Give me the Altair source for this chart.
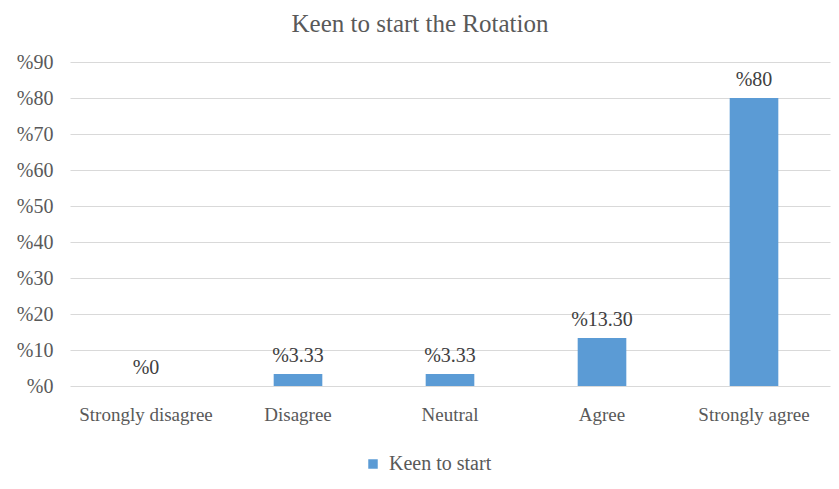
import altair as alt
import pandas as pd

categories = ["Strongly disagree", "Disagree", "Neutral", "Agree", "Strongly agree"]
values = [0, 3.33, 3.33, 13.30, 80]
value_labels = ["%0", "%3.33", "%3.33", "%13.30", "%80"]
series_name = "Keen to start"

df = pd.DataFrame({
    "category": categories,
    "value": values,
    "label": value_labels,
    "series": [series_name] * len(categories),
})

FONT = "'Liberation Serif', 'Times New Roman', serif"
TXT = "#595959"

base = alt.Chart(df).encode(
    x=alt.X("category:N", sort=categories,
            scale=alt.Scale(paddingInner=0.68, paddingOuter=0.34),
            axis=alt.Axis(title=None, labelAngle=0, labelFont=FONT, labelFontSize=19,
                          labelColor=TXT, labelPadding=19, domain=False, ticks=False,
                          grid=False)),
    y=alt.Y("value:Q", scale=alt.Scale(domain=[0, 90], nice=False),
            axis=alt.Axis(title=None, values=list(range(0, 91, 10)),
                          labelExpr="'%' + datum.value", labelFont=FONT, labelFontSize=20,
                          labelColor=TXT, labelPadding=17, domain=False, ticks=False,
                          gridColor="#D9D9D9", gridWidth=1)),
)

bars = base.mark_bar(color="#5B9BD5").encode(
    color=alt.Color("series:N", scale=alt.Scale(range=["#5B9BD5"]),
                    legend=alt.Legend(title=None, orient="none", legendX=293, legendY=392,
                                      symbolType="square", symbolSize=90, labelOffset=6,
                                      labelFont=FONT, labelFontSize=20, labelColor=TXT,
                                      symbolStrokeWidth=0))
)

labels = base.mark_text(font=FONT, fontSize=20, color="#404040", baseline="bottom", dy=-8).encode(
    text="label:N"
)

chart = (bars + labels).properties(
    width=760, height=324,
    title=alt.TitleParams("Keen to start the Rotation", font=FONT, fontSize=25,
                          fontWeight="normal", color=TXT, anchor="middle", offset=15, dx=-30),
    autosize=alt.AutoSizeParams(type="none"),
    padding={"left": 62, "top": 54, "right": 1, "bottom": 95},
).configure(
    background="white", font=FONT
).configure_view(stroke=None).configure_text(font=FONT).configure_title(font=FONT).configure_legend(labelFont=FONT)

chart.save("out.html", embed_options={"renderer": "svg", "actions": False})
